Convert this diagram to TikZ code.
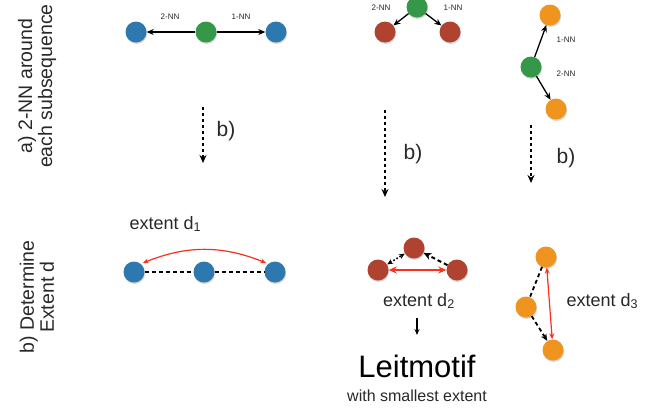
\documentclass[tikz,border=0pt]{standalone}
\usepackage{fontspec}
\setmainfont{Liberation Sans}
\usetikzlibrary{arrows.meta,shadows}
\definecolor{cblue}{RGB}{46,120,176}
\definecolor{cgreen}{RGB}{52,152,72}
\definecolor{cred}{RGB}{176,66,48}
\definecolor{corange}{RGB}{240,148,32}
\definecolor{carrow}{RGB}{250,48,28}
\definecolor{ctext}{RGB}{40,40,40}
\begin{document}
\begin{tikzpicture}[x=1pt,y=-1pt,
  dot/.style={circle,minimum size=21pt,inner sep=0pt,
    drop shadow={shadow xshift=0.6pt,shadow yshift=-1.4pt,opacity=0.35}},
  bdot/.style={dot,fill=cblue},
  gdot/.style={dot,fill=cgreen},
  rdot/.style={dot,fill=cred},
  odot/.style={dot,fill=corange},
  arr/.style={-{Stealth[length=7pt,width=6pt]},line width=1.3pt,black},
  lab/.style={font=\fontsize{8}{9}\selectfont,text=ctext},
  txt/.style={font=\fontsize{18}{20}\selectfont,text=ctext},
  side/.style={font=\fontsize{19.5}{20}\selectfont,text=ctext,rotate=90,align=center},
  stepdash/.style={-{Stealth[length=8pt,width=7pt]},line width=2pt,dash pattern=on 3pt off 3pt},
  redarr/.style={{Stealth[length=6pt,width=5pt]}-{Stealth[length=6pt,width=5pt]},carrow,line width=1.2pt},
  blackdash/.style={line width=1.8pt,dash pattern=on 4pt off 3pt}
]
\useasboundingbox (0,0) rectangle (662,408);

% side labels
\node[side] (sa) at (37,86) {a) 2-NN around\\each subsequence};
\node[side] (sb) at (37,297) {b) Determine\\Extent d};

% ---- top panel 1
\node[bdot] (a1) at (136,32) {};
\node[gdot] (a2) at (206,32) {};
\node[bdot] (a3) at (276,32) {};
\draw[arr] (a2) -- (a1);
\draw[arr] (a2) -- (a3);
\node[lab] (l1) at (170,17) {2-NN};
\node[lab] (l2) at (241,17) {1-NN};

% ---- top panel 2
\node[gdot] (c2) at (417,7) {};
\node[rdot] (c1) at (385,32) {};
\node[rdot] (c3) at (450,32) {};
\draw[arr] (c2) -- (c1);
\draw[arr] (c2) -- (c3);
\node[lab] (l3) at (381,8) {2-NN};
\node[lab] (l4) at (453,8) {1-NN};

% ---- top panel 3
\node[odot] (e1) at (550,15) {};
\node[gdot] (e2) at (531,67) {};
\node[odot] (e3) at (556,109) {};
\draw[arr] (e2) -- (e1);
\draw[arr] (e2) -- (e3);
\node[lab] (l5) at (566,40) {1-NN};
\node[lab] (l6) at (566,74) {2-NN};

% ---- b) arrows
\coordinate (s1a) at (203,107); \coordinate (s1b) at (203,163);
\coordinate (s2a) at (385,110); \coordinate (s2b) at (385,197);
\coordinate (s3a) at (531,125); \coordinate (s3b) at (531,183);
\draw[stepdash] (s1a) -- (s1b);
\draw[stepdash] (s2a) -- (s2b);
\draw[stepdash] (s3a) -- (s3b);
\node[font=\fontsize{21}{22}\selectfont,text=ctext] (b1l) at (226,131) {b)};
\node[font=\fontsize{21}{22}\selectfont,text=ctext] (b2l) at (413,154) {b)};
\node[font=\fontsize{21}{22}\selectfont,text=ctext] (b3l) at (566,158) {b)};

% ---- bottom panel 1
\node[bdot] (d1) at (134,272) {};
\node[bdot] (d2) at (204,272) {};
\node[bdot] (d3) at (275,272) {};
\draw[blackdash] (d1) -- (d2);
\draw[blackdash] (d2) -- (d3);
\draw[redarr,shorten <=2pt,shorten >=2pt] (d1.50) to[bend left=22] (d3.130);
\node[txt,anchor=west] (x1) at (126,224) {extent d\textsubscript{1}};

% ---- bottom panel 2
\node[rdot] (f2) at (414,248) {};
\node[rdot] (f1) at (378,270) {};
\node[rdot] (f3) at (457,270) {};
\draw[{Stealth[length=8pt,width=7pt]}-{Stealth[length=8pt,width=7pt]},carrow,line width=2.4pt] (f1) -- (f3);
\draw[{Stealth[length=6pt,width=5pt]}-{Stealth[length=6pt,width=5pt]},line width=1.6pt,dotted] (f1) -- (f2);
\draw[-{Stealth[length=8pt,width=7pt]},line width=2pt,dash pattern=on 4pt off 3pt] (f3) -- (f2);
\node[txt] (x2) at (419,301) {extent d\textsubscript{2}};
\coordinate (g0) at (417,318);
\node[font=\fontsize{31}{34}\selectfont,text=black] (lm) at (417,366) {Leitmotif};
\node[font=\fontsize{16}{18}\selectfont,text=ctext] (ws) at (417,396) {with smallest extent};
\draw[-{Stealth[length=6pt,width=5pt]},line width=1.1pt] (g0) -- (417,335);

% ---- bottom panel 3
\node[odot] (h1) at (546,257) {};
\node[odot] (h2) at (526,307) {};
\node[odot] (h3) at (553,350) {};
\draw[blackdash] (h1) -- (h2);
\draw[-{Stealth[length=7pt,width=6pt]},line width=1.8pt,dash pattern=on 4pt off 3pt] (h2) -- (h3);
\draw[redarr] (h1) -- (h3);
\node[txt,anchor=west] (x3) at (563,301) {extent d\textsubscript{3}};
\end{tikzpicture}
\end{document}
